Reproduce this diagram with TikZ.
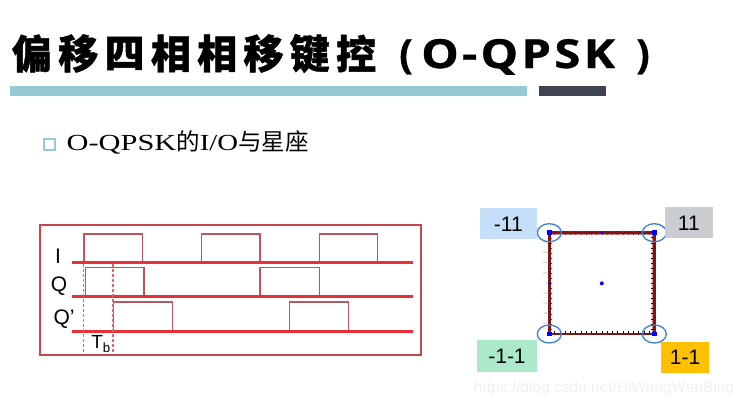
\documentclass[tikz,border=0pt]{standalone}
\usepackage{fontspec}
\usepackage{graphicx}
\setmainfont{Liberation Serif}
\setsansfont{Liberation Sans}
\newfontfamily\cjk{Noto Sans CJK SC}[BoldFeatures={FakeBold=1.2}]
\newfontfamily\titlelat{Open Sans}[BoldFeatures={FakeBold=0.8}]
\definecolor{barteal}{HTML}{97CBD4}
\definecolor{bardark}{HTML}{3E4451}
\definecolor{boxred}{HTML}{C8454B}
\definecolor{basered}{HTML}{E8303A}
\definecolor{pulsered}{HTML}{B8585E}
\definecolor{dashred}{HTML}{E86468}
\definecolor{sqred}{HTML}{7E1616}
\definecolor{sqhalo}{HTML}{DC8C8C}
\definecolor{ellblue}{HTML}{3A82D4}
\definecolor{lblblue}{HTML}{C5DFF8}
\definecolor{lblgrey}{HTML}{C9CCD1}
\definecolor{lblgreen}{HTML}{AAEACB}
\definecolor{lblorange}{HTML}{FFC000}
\tikzset{
  titlechar/.style={inner sep=0pt, font=\cjk\bfseries\fontsize{40}{42}\selectfont},
  baseline/.style={basered, line width=3pt},
  pulse/.style={pulsered, line width=1.4pt},
  tbdash/.style={dashred, dash pattern=on 3pt off 2pt, line width=1.2pt},
  siglabel/.style={inner sep=0pt, font=\sffamily\fontsize{21}{23}\selectfont},
  cornerbox/.style={inner sep=0pt, font=\sffamily\fontsize{21}{23}\selectfont},
  ring/.style={ellblue, line width=1.3pt},
  ticklbl/.style={inner sep=0.3pt, text=black!45, font=\sffamily\fontsize{2.6}{3}\selectfont},
}
\begin{document}
\begin{tikzpicture}[x=1pt,y=-1pt]
\useasboundingbox (0,0) rectangle (746,407);
% ---- title ----
\foreach \c [count=\i from 0] in {偏,移,四,相,相,移,键,控}
  \node[titlechar] (t\i) at ({32+46.3*\i},53.5) {\c};
\node[inner sep=0pt, anchor=base, font=\titlelat\bfseries\fontsize{40}{42}\selectfont] (tpl) at (406,68) {(};
\node[inner sep=0pt, anchor=base west, xscale=1.18, font=\titlelat\bfseries\fontsize{40}{42}\selectfont] (tlat) at (421,68) {\addfontfeature{LetterSpace=7}O-QPSK};
\node[inner sep=0pt, anchor=base, font=\titlelat\bfseries\fontsize{40}{42}\selectfont] (tpr) at (643,68) {)};
\fill[barteal] (10,86) rectangle (527,95.5);
\fill[bardark] (539,86) rectangle (606,95.5);
% ---- subtitle ----
\node[draw=barteal, line width=2.2pt, minimum size=11pt, inner sep=0pt] (bullet) at (49.5,144.5) {};
\node[inner sep=0pt, anchor=base west] (sub) at (66.5,150) {\fontsize{23}{26}\selectfont\scalebox{1.32}[1]{O-QPSK}{\cjk\fontsize{23.5}{26}\selectfont 的}\scalebox{1.25}[1]{I/O}{\cjk\fontsize{23.5}{26}\selectfont 与星座}};
% ---- waveform panel ----
\draw[boxred, line width=1.3pt] (40,225) rectangle (421,355);
\coordinate (iL) at (72.3,262.7);  \coordinate (iR) at (412.7,262.7);
\coordinate (qL) at (72.3,296.7);  \coordinate (qR) at (412.7,296.7);
\coordinate (pL) at (72.3,331);    \coordinate (pR) at (412.7,331);
\foreach \a/\b in {84/142.5, 201.3/260, 319.3/377.7}
  \draw[pulse] (\a,262.7) -- (\a,234) -- (\b,234) -- (\b,262.7);
\foreach \a/\b in {85.3/144, 260/319.3}
  \draw[pulse] (\a,296.7) -- (\a,267.7) -- (\b,267.7) -- (\b,296.7);
\foreach \a/\b in {113.3/172.3, 289.3/348.3}
  \draw[pulse] (\a,331) -- (\a,302) -- (\b,302) -- (\b,331);
\draw[baseline] (iL) -- (iR);
\draw[baseline] (qL) -- (qR);
\draw[baseline] (pL) -- (pR);
\coordinate (d1t) at (83.3,264); \coordinate (d1b) at (83.3,354);
\coordinate (d2t) at (113,264);  \coordinate (d2b) at (113,354);
\draw[tbdash] (d1t) -- (d1b);
\draw[tbdash] (d2t) -- (d2b);
\node[siglabel] (lI) at (58,256.5) {I};
\node[siglabel] (lQ) at (59,286) {Q};
\node[siglabel] (lQp) at (64,319.5) {Q’};
\node[siglabel, font=\sffamily\fontsize{19}{21}\selectfont] (lTb) at (101,344) {T\textsubscript{b}};
% ---- constellation ----
\begin{scope}[shift={(601.8,283.35)}, x=52.5pt, y=-50.65pt]
  \coordinate (TL) at (-1,1); \coordinate (TR) at (1,1);
  \coordinate (BL) at (-1,-1); \coordinate (BR) at (1,-1);
  \coordinate (C0) at (0,0);
  \draw[sqhalo, line width=3.8pt] (TR) -- (BR) -- (BL);
  \foreach \v in {-0.9,-0.8,...,0.95} {
    \draw[black, line width=0.6pt] (\v,1) -- ++(0,-0.06);
    \draw[black, line width=0.6pt] (1,\v) -- ++(-0.06,0);
    \draw[black!70, line width=0.4pt] (\v,-1) -- ++(0,0.045);
    \draw[black!70, line width=0.4pt] (-1,\v) -- ++(0.045,0);
  }
  \draw[sqred, line width=2.6pt] (TL) -- (TR) -- (BR) -- (BL) -- cycle;
  \foreach \v/\t in {0.8/0.8,0.6/0.6,0.4/0.4,0.2/0.2,0/0,-0.2/-0.2,-0.4/-0.4,-0.6/-0.6,-0.8/-0.8,-1/-1}
    \node[ticklbl, anchor=east] at (-1.03,\v) {\t};
  \foreach \v/\t in {-1/-1,-0.8/-0.8,-0.6/-0.6,-0.4/-0.4,-0.2/-0.2,0/0,0.2/0.2,0.4/0.4,0.6/0.6,0.8/0.8,1/1}
    \node[ticklbl, anchor=north] at (\v,-1.05) {\t};
  \foreach \p in {TL,TR,BL,BR}
    \fill[blue] (\p) ++(-2.4pt,-2.4pt) rectangle ++(4.8pt,4.8pt);
  \fill[blue] (C0) circle (2pt);
  \fill[blue!70!violet] (-1,0) circle (1.6pt);
  \fill[blue!70!violet] (0,-1) circle (1.6pt);
  \foreach \p in {TL,TR,BL,BR}
    \draw[ring] (\p) ellipse [x radius=12pt, y radius=9pt];
\end{scope}
\node[cornerbox, fill=lblblue, minimum width=56.7pt, minimum height=31pt] (bm11) at (508.3,223.8) {-11};
\node[cornerbox, fill=lblgrey, minimum width=47.7pt, minimum height=31pt] (b11) at (688.8,222.8) {11};
\node[cornerbox, fill=lblgreen, minimum width=59.4pt, minimum height=31.7pt] (bm1m1) at (507,355.8) {-1-1};
\node[cornerbox, fill=lblorange, minimum width=48pt, minimum height=31.6pt] (b1m1) at (685,357.5) {1-1};
% ---- watermark ----
\node[inner sep=0pt, text=black!6, font=\sffamily\fontsize{15.5}{17}\selectfont] (wm) at (604,388) {https://blog.csdn.net/HiWangWenBing};
\end{tikzpicture}
\end{document}
